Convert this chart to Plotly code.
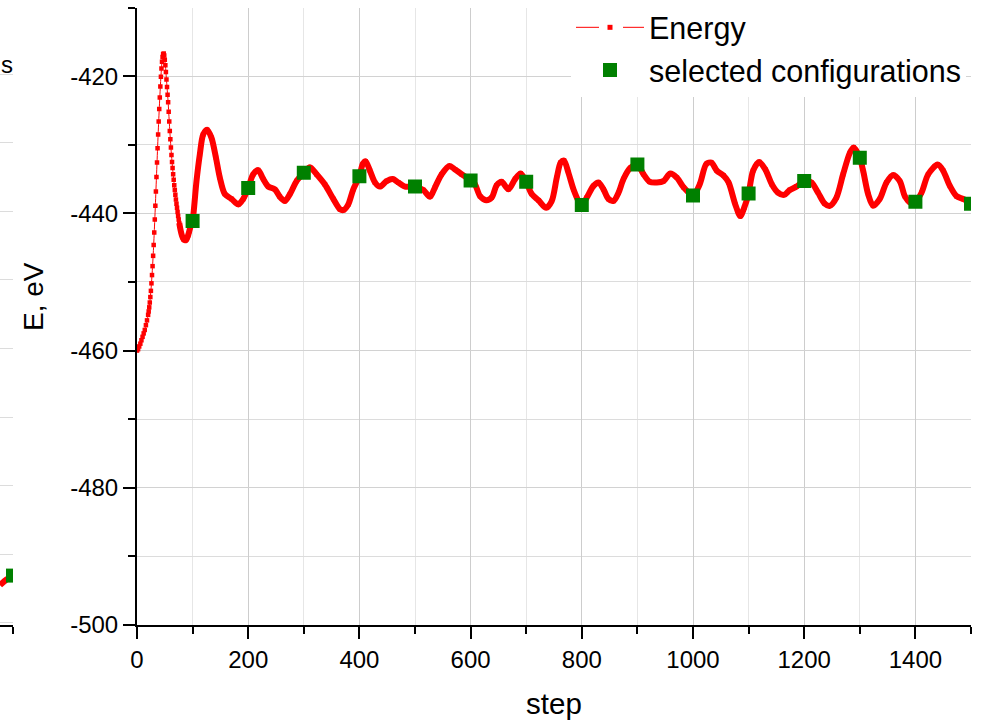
import numpy as np
import plotly.graph_objects as go

# ---------------- data ----------------
energy_step = [
    0, 2, 4, 6, 8, 10, 12, 14, 16, 18, 20, 21, 22, 23, 24, 25, 26, 27, 28, 29,
    30, 31, 32, 33, 34, 35, 36, 37, 38, 39, 40, 41, 42, 43, 44, 45, 46, 47, 48, 49,
    50, 51, 52, 53, 54, 55, 56, 57, 58, 59, 60, 61, 62, 63, 64, 65, 66, 67, 68, 69,
    70, 71, 72, 73, 74, 75, 76, 78, 80, 82, 84, 86, 88, 90, 92, 94, 96, 98,
    100, 107, 113, 119, 126, 134, 142, 149, 158, 170, 182, 191,
    200, 209, 218, 227, 236, 248, 257, 266, 275, 287,
    300, 311, 323, 338, 353, 365, 372, 380, 389,
    400, 406, 411, 419, 428, 437, 449, 460, 470, 482,
    500, 515, 527, 536, 548, 562, 572, 584,
    600, 608, 617, 628, 638, 647, 656, 668, 680, 690,
    700, 710, 722, 736, 746, 755, 762, 768, 776, 785, 794,
    800, 809, 821, 830, 839, 848, 857, 866, 875, 887,
    900, 911, 922, 935, 947, 959, 971, 983,
    1000, 1012, 1024, 1033, 1043, 1055, 1064, 1076, 1085, 1092,
    1100, 1108, 1119, 1130, 1142, 1153, 1164, 1174, 1186,
    1200, 1213, 1225, 1237, 1246, 1258, 1270, 1282, 1289,
    1300, 1306, 1315, 1324, 1336, 1348, 1360, 1372, 1381, 1390,
    1400, 1411, 1423, 1440, 1450, 1462, 1474, 1486, 1500,
]
energy_ev = [
    -460.0, -459.8, -459.4, -459.0, -458.5, -458.0, -457.5, -457.0, -456.3, -455.6,
    -454.8, -454.3, -453.7, -453.0, -452.2, -451.3, -450.2, -449.0, -447.7, -446.2,
    -444.6, -442.8, -440.9, -438.9, -436.8, -434.7, -432.6, -430.5, -428.5, -426.6,
    -424.8, -423.1, -421.5, -420.1, -418.9, -417.9, -417.2, -416.8, -416.7, -417.0,
    -417.6, -418.4, -419.4, -420.5, -421.6, -422.7, -423.8, -425.2, -426.6, -428.0,
    -429.2, -430.4, -431.5, -432.5, -433.4, -434.3, -435.1, -435.9, -436.6, -437.3,
    -438.0, -438.6, -439.2, -439.8, -440.4, -440.9, -441.4, -442.3, -443.0, -443.5,
    -443.8, -443.9, -443.9, -443.6, -443.2, -442.6, -442.0, -441.6,
    -441.1, -435.3, -431.4, -428.5, -427.8, -429.0, -431.9, -434.8, -437.2, -437.9, -438.7, -437.9,
    -436.3, -434.3, -433.7, -435.0, -436.1, -436.5, -437.6, -438.2, -437.2, -435.3,
    -434.1, -433.3, -434.3, -435.8, -437.9, -439.4, -439.5, -438.7, -436.5,
    -434.6, -432.8, -432.4, -433.8, -435.5, -436.1, -435.3, -435.0, -435.5, -436.1,
    -436.1, -436.6, -437.6, -436.2, -434.3, -433.1, -433.6, -434.3,
    -435.2, -435.8, -437.5, -438.1, -437.7, -435.9, -435.4, -436.5, -435.0, -434.2,
    -435.4, -437.2, -438.1, -439.2, -438.2, -434.8, -432.6, -432.3, -434.1, -436.5, -438.2,
    -438.8, -437.7, -436.0, -435.5, -436.5, -437.9, -438.2, -437.0, -435.0, -433.4,
    -432.9, -434.3, -435.4, -435.5, -435.3, -434.2, -434.8, -436.2,
    -437.4, -435.8, -432.8, -432.6, -433.8, -434.5, -435.5, -438.7, -440.4, -439.2,
    -437.1, -433.8, -432.5, -433.6, -435.8, -437.0, -437.3, -436.6, -436.1,
    -435.3, -435.5, -437.0, -438.6, -438.9, -437.7, -434.3, -431.2, -430.4,
    -431.9, -433.8, -437.2, -438.9, -437.9, -435.5, -434.4, -435.3, -437.5, -438.4,
    -438.3, -437.0, -434.3, -432.9, -433.8, -436.0, -437.5, -437.9, -438.5,
]

selected_step = [100, 200, 300, 400, 500, 600, 700, 800, 900, 1000, 1100, 1200, 1300, 1400, 1500]
selected_ev = [-441.1, -436.3, -434.1, -434.6, -436.1, -435.2, -435.4, -438.8, -432.9,
               -437.4, -437.1, -435.3, -431.9, -438.3, -438.6]

x_tick_vals = [0, 200, 400, 600, 800, 1000, 1200, 1400]
y_tick_vals = [-500, -480, -460, -440, -420]
y_tick_text = ["-500", "-480", "-460", "-440", "-420"]

# tail of the neighbouring panel, visible at the left edge
prev_step = [1477, 1488, 1500]
prev_ev = [-494.5, -493.7, -493.1]
prev_sel_step = [1500]
prev_sel_ev = [-493.1]
prev_legend_tail = "s"

# ---------------- styling ----------------
W, H = 981, 723
RED = "#ff0000"
GREEN = "#008000"
FONT = "Arial, 'Liberation Sans', sans-serif"
x_dom = [137 / W, 971 / W]
y_dom = [(H - 625) / H, (H - 7.5) / H]

es = np.array(energy_step, dtype=float)
ee = np.array(energy_ev, dtype=float)
thick = es >= 76

fig = go.Figure()
fig.add_trace(go.Scatter(
    x=es[thick], y=ee[thick], mode="lines",
    line=dict(color=RED, width=6, shape="spline", smoothing=0.8),
    showlegend=False, hoverinfo="skip"))
fig.add_trace(go.Scatter(
    x=es, y=ee, mode="lines+markers",
    line=dict(color=RED, width=1, shape="spline", smoothing=0.8),
    marker=dict(symbol="square", size=4.5, color=RED),
    showlegend=False))
fig.add_trace(go.Scatter(
    x=[None], y=[None], name="Energy", mode="lines+markers",
    line=dict(color=RED, width=1, dash="23px,24px"),
    marker=dict(symbol="square", size=5, color=RED)))
fig.add_trace(go.Scatter(
    x=selected_step, y=selected_ev, name="selected configurations", mode="markers",
    marker=dict(symbol="square", size=14, color=GREEN)))

# neighbouring panel fragment
fig.add_trace(go.Scatter(
    x=prev_step, y=prev_ev, mode="lines", xaxis="x2", yaxis="y2",
    line=dict(color=RED, width=6, shape="spline"), showlegend=False))
fig.add_trace(go.Scatter(
    x=prev_sel_step, y=prev_sel_ev, mode="markers", xaxis="x2", yaxis="y2",
    marker=dict(symbol="square", size=14, color=GREEN), showlegend=False))

fig.update_layout(
    width=W, height=H,
    margin=dict(l=0, r=0, t=0, b=0),
    template="none",
    paper_bgcolor="white", plot_bgcolor="white",
    font=dict(family=FONT, size=24, color="black"),
    showlegend=True,
    legend=dict(x=571 / W, y=1.0 - 1 / H, xanchor="left", yanchor="top",
                bgcolor="white", borderwidth=0, font=dict(size=30.5),
                itemwidth=68, tracegroupgap=0),
    xaxis=dict(
        domain=x_dom, anchor="y", range=[0, 1500],
        tickmode="array", tickvals=x_tick_vals,
        ticks="outside", ticklen=12, tickwidth=2, tickcolor="black",
        showline=True, linewidth=2, linecolor="black", zeroline=False,
        showgrid=True, gridcolor="#cdcdcd", gridwidth=1,
        minor=dict(tickmode="linear", tick0=0, dtick=100, ticks="outside",
                   ticklen=7, tickwidth=2, tickcolor="black",
                   showgrid=True, gridcolor="#e6e6e6", gridwidth=1),
        tickfont=dict(size=24),
        title=dict(text="step", font=dict(size=29.5), standoff=22),
    ),
    yaxis=dict(
        domain=y_dom, anchor="x", range=[-500, -410],
        tickmode="array", tickvals=y_tick_vals, ticktext=y_tick_text,
        ticks="outside", ticklen=12, tickwidth=2, tickcolor="black",
        showline=True, linewidth=2, linecolor="black", zeroline=False,
        showgrid=True, gridcolor="#d2d2d2", gridwidth=1,
        minor=dict(tickmode="linear", tick0=-500, dtick=10, ticks="outside",
                   ticklen=7, tickwidth=2, tickcolor="black",
                   showgrid=True, gridcolor="#dcdcdc", gridwidth=1),
        tickfont=dict(size=24),
    ),
    xaxis2=dict(
        domain=[0, 13 / W], anchor="y2", range=[1477, 1500],
        tickmode="array", tickvals=[1500], showticklabels=False,
        ticks="outside", ticklen=7, tickwidth=2, tickcolor="black",
        showline=True, linewidth=2, linecolor="black", zeroline=False,
        showgrid=False,
    ),
    yaxis2=dict(
        domain=y_dom, anchor="x2", range=[-500.3, -410.3],
        tickmode="linear", tick0=-500, dtick=10,
        showticklabels=False, ticks="", showline=False, zeroline=False,
        showgrid=True, gridcolor="#dcdcdc", gridwidth=1,
    ),
    annotations=[
        dict(text="E, eV", x=33 / W, y=(H - 297) / H, xref="paper", yref="paper",
             textangle=-90, showarrow=False, font=dict(size=28),
             xanchor="center", yanchor="middle"),
        dict(text=prev_legend_tail, x=0, y=(H - 64) / H,
             xref="paper", yref="paper", showarrow=False, font=dict(size=24),
             xanchor="left", yanchor="middle", borderpad=0),
    ],
)

fig.write_html("out.html")
